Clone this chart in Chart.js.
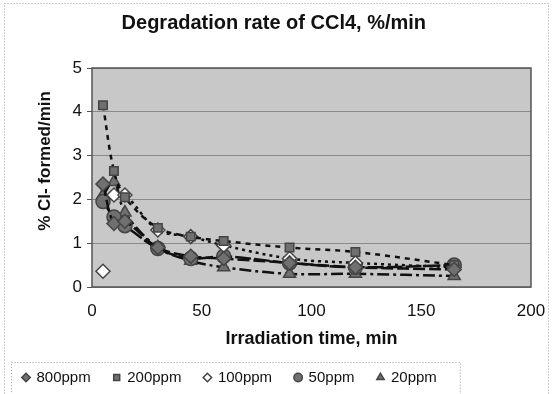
<!DOCTYPE html>
<html>
<head>
<meta charset="utf-8">
<script src="https://cdn.jsdelivr.net/npm/chart.js@4/dist/chart.umd.min.js"></script>
<style>
  html, body { margin: 0; padding: 0; background: #fff; }
  #wrap { width: 556px; height: 394px; }
</style>
</head>
<body>
<div id="wrap"><canvas id="c" width="556" height="394"></canvas></div>
<script>
// irradiation times, min
const times = [5, 10, 15, 30, 45, 60, 90, 120, 165];

// % Cl- formed per min
const ppm800 = [2.35, 1.45, 1.5, 0.9, 0.7, 0.65, 0.55, 0.45, 0.4];
const ppm200 = [4.15, 2.65, 2.05, 1.35, 1.15, 1.05, 0.9, 0.8, 0.5];
const ppm100 = [0.36, 2.1, 2.1, 1.3, 1.15, 0.95, 0.65, 0.55, 0.45];
const ppm50 = [1.95, 1.6, 1.4, 0.88, 0.65, 0.7, 0.55, 0.45, 0.5];
const ppm20 = [2.1, 2.4, 1.7, 0.9, 0.6, 0.45, 0.3, 0.3, 0.25];

const yTicks = [0, 1, 2, 3, 4, 5];
const xTicks = [0, 50, 100, 150, 200];

const FONT = 'Liberation Sans, Arial';

function toPoints(vals) {
    return times.map((t, i) => ({ x: t, y: vals[i] }));
}

function makeSet(label, vals, style, fill, dash) {
    return {
        label: label,
        data: toPoints(vals),
        showLine: true,
        borderColor: '#111',
        borderWidth: 2.5,
        borderDash: dash,
        tension: 0.35,
        pointStyle: style,
        pointRadius: style === 'rect' ? 6 : 7,
        pointBackgroundColor: fill,
        pointBorderColor: '#444',
        pointBorderWidth: 1.5
    };
}

const plotBg = {
    id: 'plotBg',
    beforeDraw(chart) {
        const { ctx, chartArea: a } = chart;
        ctx.save();
        // outer chart border
        ctx.strokeStyle = '#999';
        ctx.setLineDash([1, 2]);
        ctx.lineWidth = 1;
        ctx.strokeRect(4.5, 3.5, 544, 395);
        ctx.setLineDash([]);
        ctx.fillStyle = '#c8c8c8';
        ctx.fillRect(a.left, a.top, a.right - a.left, a.bottom - a.top);
        ctx.restore();
    },
    afterDraw(chart) {
        const { ctx, chartArea: a } = chart;
        ctx.save();
        ctx.strokeStyle = '#555';
        ctx.lineWidth = 1.5;
        ctx.strokeRect(a.left, a.top, a.right - a.left, a.bottom - a.top);
        // legend box
        const lg = chart.legend;
        if (lg && lg.legendHitBoxes.length) {
            const hb = lg.legendHitBoxes;
            const last = hb[hb.length - 1];
            const midY = hb[0].top + hb[0].height / 2;
            ctx.strokeStyle = '#999';
            ctx.lineWidth = 1;
            ctx.setLineDash([1, 2]);
            ctx.strokeRect(11.5, Math.round(midY) - 15.5, last.left + last.width + 23 - 11, 40);
        }
        ctx.restore();
    }
};

new Chart(document.getElementById('c'), {
    type: 'scatter',
    data: {
        datasets: [
            makeSet('800ppm', ppm800, 'rectRot', '#707070', [12, 4]),
            makeSet('200ppm', ppm200, 'rect', '#707070', [5, 5]),
            Object.assign(makeSet('100ppm', ppm100, 'rectRot', '#ffffff', [3, 4]), {
                segment: { borderColor: c => c.p0DataIndex === 0 ? 'rgba(0,0,0,0)' : '#111' }
            }),
            makeSet('50ppm', ppm50, 'circle', '#707070', [16, 3]),
            makeSet('20ppm', ppm20, 'triangle', '#707070', [12, 4, 3, 4])
        ]
    },
    options: {
        responsive: false,
        animation: false,
        layout: { padding: { left: 0, right: 25, top: 0, bottom: 0 } },
        plugins: {
            title: {
                display: true,
                text: '   Degradation rate of CCl4, %/min',
                color: '#111',
                font: { family: FONT, size: 20, weight: 'bold' },
                padding: { top: 11, bottom: 33 }
            },
            legend: {
                position: 'bottom',
                align: 'start',
                maxHeight: 47,
                labels: {
                    usePointStyle: true,
                    boxWidth: 6,
                    boxHeight: 6,
                    padding: 23,
                    color: '#111',
                    font: { family: FONT, size: 15 }
                }
            },
            tooltip: { enabled: false }
        },
        scales: {
            x: {
                type: 'linear',
                min: 0,
                max: 200,
                afterBuildTicks: s => { s.ticks = xTicks.map(v => ({ value: v })); },
                afterFit: s => { s.height = 60; },
                grid: { display: false, drawOnChartArea: false, drawTicks: true, tickLength: 4, tickColor: '#555' },
                border: { display: false },
                ticks: {
                    color: '#111',
                    padding: 10,
                    maxRotation: 0,
                    font: { family: FONT, size: 17 }
                },
                title: {
                    display: true,
                    text: 'Irradiation time, min',
                    color: '#111',
                    padding: { top: 4, bottom: -3 },
                    font: { family: FONT, size: 18, weight: 'bold' }
                }
            },
            y: {
                type: 'linear',
                min: 0,
                max: 5,
                afterBuildTicks: s => { s.ticks = yTicks.map(v => ({ value: v })); },
                afterFit: s => { s.width = 92; },
                grid: { color: '#8a8a8a', lineWidth: 1, drawTicks: true, tickLength: 5, tickColor: '#555' },
                border: { display: false },
                ticks: {
                    color: '#111',
                    padding: 5,
                    font: { family: FONT, size: 17 }
                },
                title: {
                    display: true,
                    text: '       % Cl- formed/min',
                    color: '#111',
                    padding: { top: 35, bottom: 0 },
                    font: { family: FONT, size: 17, weight: 'bold' }
                }
            }
        }
    },
    plugins: [plotBg]
});
</script>
</body>
</html>
